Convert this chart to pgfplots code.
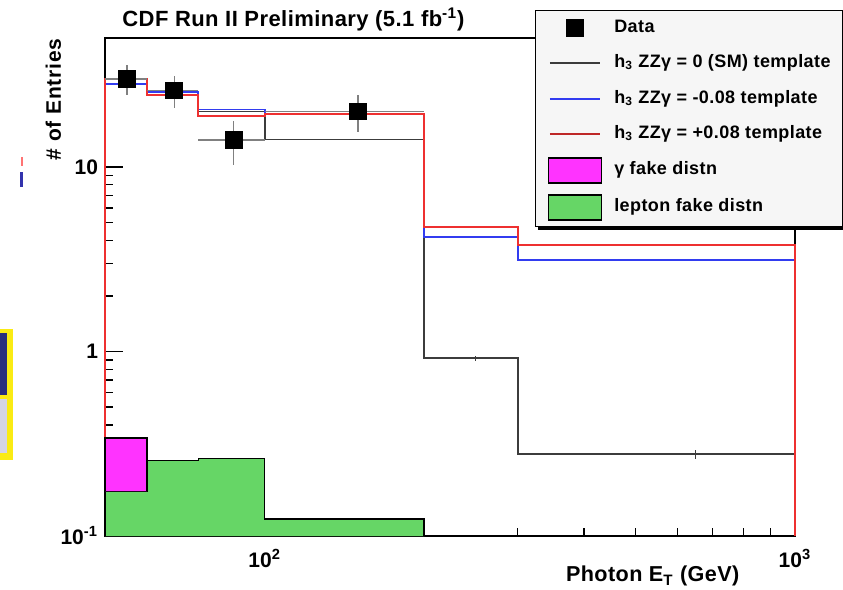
\documentclass[border=0pt]{standalone}
\usepackage{fontspec}
\setmainfont{Liberation Sans}
\newfontfamily\legfont[LetterSpace=2.3]{Liberation Sans}
\newfontfamily\titfont[LetterSpace=2]{Liberation Sans}
\newfontfamily\ylabfont[LetterSpace=4]{Liberation Sans}
\usepackage{pgfplots}
\pgfplotsset{compat=1.18}
\usetikzlibrary{backgrounds}
\definecolor{histred}{RGB}{238,48,48}
\definecolor{histblue}{RGB}{50,60,240}
\definecolor{histblack}{RGB}{60,60,60}
\definecolor{fakemag}{RGB}{255,51,255}
\definecolor{fakegreen}{RGB}{102,214,102}
\definecolor{legbg}{RGB}{246,246,246}
\definecolor{slideyellow}{RGB}{250,235,20}
\definecolor{slidenavy}{RGB}{40,45,125}
\definecolor{slidelav}{RGB}{212,212,230}

\begin{document}
\begin{tikzpicture}
\begin{axis}[
  at={(0,0)}, anchor=south west,
  scale only axis, width=345pt, height=249pt,
  xmode=log, ymode=log,
  xmin=50, xmax=1000, ymin=0.1, ymax=50,
  clip=false,
  axis line style={black, line width=0.75pt},
  tick pos=left, tick align=inside,
  every tick/.style={black, line width=0.6pt},
  major tick length=9pt, minor tick length=4pt,
  xtick={100,1000}, xticklabels={10\textsuperscript{2},10\textsuperscript{3}},
  ytick={0.1,1,10}, yticklabels={10\textsuperscript{-1},1,10},
  ticklabel style={font=\fontsize{10.5}{11}\selectfont\bfseries},
  xticklabel style={yshift=-3pt},
  title={CDF Run II Preliminary (5.1 fb\textsuperscript{-1})},
  title style={at={(axis description cs:0.0246,1.0231)}, anchor=base west, yshift=-6pt,
    font=\titfont\fontsize{11}{12}\selectfont\bfseries, inner sep=0pt},
  xlabel={Photon E\textsubscript{T} (GeV)},
  xlabel style={at={(axis description cs:0.920,-0.092)}, anchor=base east,
    font=\titfont\fontsize{10.8}{12}\selectfont\bfseries, inner sep=0pt},
  ylabel={\# of Entries},
  ylabel style={at={(axis description cs:-0.0638,1)}, anchor=base east,
    font=\ylabfont\fontsize{10.5}{11}\selectfont\bfseries, inner sep=0pt},
  legend cell align=left,
  legend style={
    name=legbox,
    at={(axis description cs:0.6232,1.0572)}, anchor=north west,
    draw=black, line width=0.5pt, fill=legbg,
    inner xsep=6pt, inner ysep=2.75pt,
    row sep=5.15pt,
    font=\legfont\fontsize{9}{10}\selectfont\bfseries,
    nodes={inner sep=0pt, text height=6pt, text depth=1.5pt},
    /tikz/every odd column/.append style={column sep=6pt},
  },
]
% legend entries (in the reference order)
\addlegendimage{legend image code/.code={
  \path[draw=none, fill=none] (0pt,-6.25pt) rectangle (26.5pt,6.25pt);
  \draw[black, fill=black, mark=square*, mark size=4.2pt] plot coordinates {(13.25pt,0pt)};}}
\addlegendentry{Data}
\addlegendimage{legend image code/.code={
  \path[draw=none, fill=none] (0pt,-6.25pt) rectangle (26.5pt,6.25pt);
  \draw[histblack, fill=none, line width=0.9pt] (0.75pt,0pt) -- (25.75pt,0pt);}}
\addlegendentry{h\textsubscript{3} ZZγ = 0 (SM) template}
\addlegendimage{legend image code/.code={
  \path[draw=none, fill=none] (0pt,-6.25pt) rectangle (26.5pt,6.25pt);
  \draw[histblue, fill=none, line width=0.9pt] (0.75pt,0pt) -- (25.75pt,0pt);}}
\addlegendentry{h\textsubscript{3} ZZγ = -0.08 template}
\addlegendimage{legend image code/.code={
  \path[draw=none, fill=none] (0pt,-6.25pt) rectangle (26.5pt,6.25pt);
  \draw[histred!80!black, fill=none, line width=0.9pt] (0.75pt,0pt) -- (25.75pt,0pt);}}
\addlegendentry{h\textsubscript{3} ZZγ = +0.08 template}
\addlegendimage{legend image code/.code={
  \draw[black, line width=0.9pt, fill=fakemag] (0pt,-6.25pt) rectangle (26.5pt,6.25pt);}}
\addlegendentry{γ fake distn}
\addlegendimage{legend image code/.code={
  \draw[black, line width=0.9pt, fill=fakegreen] (0pt,-6.25pt) rectangle (26.5pt,6.25pt);}}
\addlegendentry{lepton fake distn}

% SM template
\addplot[const plot, histblack, line width=0.9pt, forget plot] coordinates {
  (50,0.1) (50,28.3) (60,25.4) (75,20.0) (100,14.1) (200,0.92) (300,0.277) (1000,0.277) (1000,0.1)};
% -0.08 template
\addplot[const plot, histblue, line width=0.9pt, forget plot] coordinates {
  (50,0.1) (50,28.3) (60,25.4) (75,20.5) (100,19.5) (200,4.19) (300,3.13) (1000,3.13) (1000,0.1)};
% +0.08 template
\addplot[const plot, histred, line width=1pt, forget plot] coordinates {
  (50,0.1) (50,30.1) (60,24.4) (75,18.9) (100,19.3) (200,4.74) (300,3.78) (1000,3.78) (1000,0.1)};
% small error ticks on SM template
\addplot[draw=none, mark=none, forget plot,
  error bars/.cd, y dir=both, y explicit, error mark=none,
  error bar style={draw=histblack, line width=0.6pt}] coordinates {
  (250,0.92) +- (0,0.03) (650,0.277) +- (0,0.014)};
% lepton fake
\addplot[const plot, fill=fakegreen, draw=black, line width=0.8pt, forget plot] coordinates {
  (50,0.1) (50,0.175) (60,0.256) (75,0.263) (100,0.124) (200,0.124) (200,0.1)};
% photon fake (stacked on lepton fake)
\addplot[const plot, fill=fakemag, draw=black, line width=0.8pt, forget plot] coordinates {
  (50,0.175) (50,0.34) (60,0.34) (60,0.175)};
% data
\addplot[only marks, mark=square*, mark size=4.2pt, black, forget plot,
  error bars/.cd, x dir=both, x explicit, y dir=both, y explicit, error mark=none,
  error bar style={gray, line width=0.6pt}] coordinates {
  (55,30) +- (5,5.48) (67.5,26) +- (7.5,5.1) (87.5,14) +- (12.5,3.74) (150,20) +- (50,4.47)};
\end{axis}
\begin{pgfonlayer}{background}
  \fill[black] ([shift={(1.6pt,-1.6pt)}]legbox.south west) rectangle ([shift={(1.6pt,-1.6pt)}]legbox.north east);
\end{pgfonlayer}
\begin{scope}[x=0.5pt, y=-0.5pt, shift={(-52.5pt,268pt)}]
  \fill[slideyellow] (0,329) rectangle (13,460);
  \fill[slidenavy] (0,333) rectangle (7.3,395);
  \fill[slidelav] (0,399) rectangle (7.3,453);
  \fill[red!55] (21,157) rectangle (23.5,166);
  \fill[blue!60!black!80] (20.5,172) rectangle (23,187);
  \pgfresetboundingbox
  \path[use as bounding box] (0,0) rectangle (843,590);
\end{scope}
\end{tikzpicture}
\end{document}
